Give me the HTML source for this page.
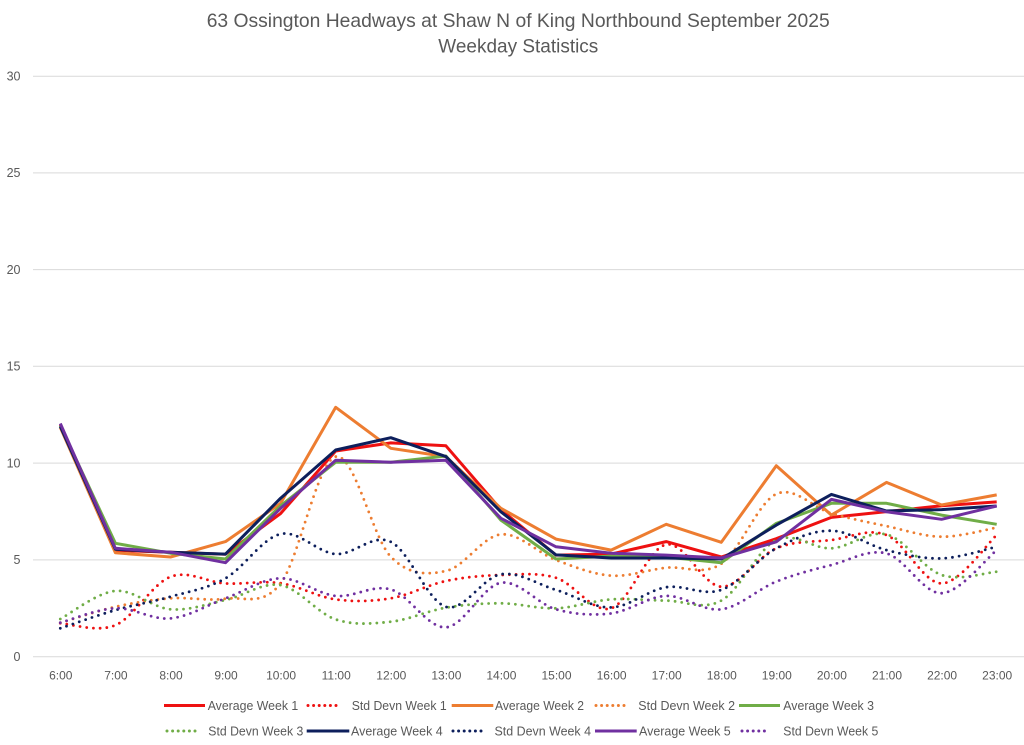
<!DOCTYPE html>
<html>
<head>
<meta charset="utf-8">
<style>
  html,body{margin:0;padding:0;background:#fff;}
  svg{display:block;}
  text{font-family:"Liberation Sans",Arial,sans-serif;fill:#595959;}
</style>
</head>
<body>
<svg width="1024" height="745" viewBox="0 0 1024 745" xmlns="http://www.w3.org/2000/svg">
  <rect x="0" y="0" width="1024" height="745" fill="#fff"/>

  <!-- Title -->
  <text x="206.7" y="27" font-size="19.5" textLength="623" lengthAdjust="spacingAndGlyphs">63 Ossington Headways at Shaw N of King Northbound September 2025</text>
  <text x="438.3" y="52.5" font-size="19.5" textLength="160" lengthAdjust="spacingAndGlyphs">Weekday Statistics</text>

  <!-- Gridlines -->
  <g stroke="#d9d9d9" stroke-width="1">
    <line x1="33" y1="76.2" x2="1024" y2="76.2"/>
    <line x1="33" y1="172.9" x2="1024" y2="172.9"/>
    <line x1="33" y1="269.6" x2="1024" y2="269.6"/>
    <line x1="33" y1="366.3" x2="1024" y2="366.3"/>
    <line x1="33" y1="463.1" x2="1024" y2="463.1"/>
    <line x1="33" y1="559.9" x2="1024" y2="559.9"/>
    <line x1="33" y1="656.7" x2="1024" y2="656.7"/>
  </g>

  <!-- Y labels -->
  <g font-size="12.5" text-anchor="end">
    <text x="20.5" y="80.5">30</text>
    <text x="20.5" y="177.2">25</text>
    <text x="20.5" y="273.9">20</text>
    <text x="20.5" y="370.6">15</text>
    <text x="20.5" y="467.4">10</text>
    <text x="20.5" y="564.2">5</text>
    <text x="20.5" y="661">0</text>
  </g>

  <!-- X labels -->
  <g font-size="12" text-anchor="middle">
    <text x="60.8" y="679.5">6:00</text>
    <text x="115.9" y="679.5">7:00</text>
    <text x="171" y="679.5">8:00</text>
    <text x="226" y="679.5">9:00</text>
    <text x="281.1" y="679.5">10:00</text>
    <text x="336.2" y="679.5">11:00</text>
    <text x="391.3" y="679.5">12:00</text>
    <text x="446.4" y="679.5">13:00</text>
    <text x="501.4" y="679.5">14:00</text>
    <text x="556.5" y="679.5">15:00</text>
    <text x="611.6" y="679.5">16:00</text>
    <text x="666.7" y="679.5">17:00</text>
    <text x="721.8" y="679.5">18:00</text>
    <text x="776.8" y="679.5">19:00</text>
    <text x="831.9" y="679.5">20:00</text>
    <text x="887" y="679.5">21:00</text>
    <text x="942.1" y="679.5">22:00</text>
    <text x="997.2" y="679.5">23:00</text>
  </g>

  <!-- Series -->
  <g fill="none" stroke-linejoin="round">
    <!-- Average Week 1 -->
    <polyline stroke="#ee1111" stroke-width="3" points="60.3,424.5 115.4,550.3 170.5,552.2 225.5,554.2 280.6,513.5 335.7,451.0 390.8,442.9 445.9,445.8 500.9,509.6 556.0,555.1 611.1,554.1 666.2,541.6 721.3,557.0 776.3,538.7 831.4,517.4 886.5,511.6 941.6,505.8 996.7,501.9"/>
    <!-- Std Devn Week 1 -->
    <polyline class="s" stroke="#ee1111" stroke-width="2.8" stroke-linecap="round" stroke-dasharray="0 6.7" points="60.3,623.2 115.4,625.2 170.5,576.8 225.5,583.4 280.6,583.2 335.7,599.4 390.8,598.3 445.9,581.0 500.9,575.0 556.0,577.8 611.1,608.3 666.2,544.5 721.3,586.7 776.3,548.3 831.4,540.0 886.5,535.0 941.6,583.4 996.7,535.0"/>
    <!-- Average Week 2 -->
    <polyline stroke="#ed7d31" stroke-width="3" points="60.3,427.4 115.4,552.8 170.5,557.0 225.5,541.6 280.6,503.3 335.7,407.3 390.8,448.3 445.9,456.6 500.9,508.3 556.0,539.1 611.1,550.1 666.2,524.3 721.3,542.3 776.3,465.7 831.4,515.1 886.5,482.4 941.6,505.0 996.7,494.9"/>
    <!-- Std Devn Week 2 -->
    <polyline class="s" stroke="#ed7d31" stroke-width="2.8" stroke-linecap="round" stroke-dasharray="0 6.7" points="60.3,622.8 115.4,606.8 170.5,598.3 225.5,598.7 280.6,583.4 335.7,456.6 390.8,556.7 445.9,571.0 500.9,534.4 556.0,560.0 611.1,575.6 666.2,567.7 721.3,563.8 776.3,494.0 831.4,513.3 886.5,526.1 941.6,536.7 996.7,527.6"/>
    <!-- Average Week 3 -->
    <polyline stroke="#70ad47" stroke-width="3" points="60.3,425.5 115.4,543.3 170.5,553.2 225.5,559.0 280.6,505.8 335.7,462.2 390.8,462.2 445.9,456.0 500.9,520.1 556.0,559.0 611.1,556.1 666.2,557.0 721.3,562.7 776.3,523.4 831.4,503.3 886.5,503.3 941.6,515.1 996.7,524.3"/>
    <!-- Std Devn Week 3 -->
    <polyline class="s" stroke="#70ad47" stroke-width="2.8" stroke-linecap="round" stroke-dasharray="0 6.7" points="60.3,619.0 115.4,590.9 170.5,609.3 225.5,600.0 280.6,585.1 335.7,619.4 390.8,621.7 445.9,607.7 500.9,603.3 556.0,608.3 611.1,599.4 666.2,600.6 721.3,600.6 776.3,540.0 831.4,548.3 886.5,534.4 941.6,575.0 996.7,571.7"/>
    <!-- Average Week 4 -->
    <polyline stroke="#0d1f5c" stroke-width="3" points="60.3,426.4 115.4,549.3 170.5,552.2 225.5,554.1 280.6,498.2 335.7,450.0 390.8,437.7 445.9,456.6 500.9,511.8 556.0,554.9 611.1,558.0 666.2,558.0 721.3,559.0 776.3,525.1 831.4,494.4 886.5,511.0 941.6,509.6 996.7,506.0"/>
    <!-- Std Devn Week 4 -->
    <polyline class="s" stroke="#0d1f5c" stroke-width="2.8" stroke-linecap="round" stroke-dasharray="0 6.7" points="60.3,628.3 115.4,610.1 170.5,596.7 225.5,578.3 280.6,534.0 335.7,554.0 390.8,541.8 445.9,606.8 500.9,574.3 556.0,589.9 611.1,607.4 666.2,587.2 721.3,589.9 776.3,548.3 831.4,530.7 886.5,550.1 941.6,558.4 996.7,546.8"/>
    <!-- Average Week 5 -->
    <polyline stroke="#7030a0" stroke-width="3" points="60.3,423.5 115.4,548.3 170.5,552.2 225.5,562.7 280.6,508.3 335.7,460.3 390.8,462.2 445.9,460.3 500.9,518.3 556.0,546.8 611.1,553.2 666.2,555.1 721.3,558.0 776.3,541.8 831.4,499.4 886.5,511.8 941.6,519.3 996.7,506.0"/>
    <!-- Std Devn Week 5 -->
    <polyline class="s" stroke="#7030a0" stroke-width="2.8" stroke-linecap="round" stroke-dasharray="0 6.7" points="60.3,622.7 115.4,608.3 170.5,618.4 225.5,598.3 280.6,578.3 335.7,595.9 390.8,589.4 445.9,627.3 500.9,582.8 556.0,609.3 611.1,613.4 666.2,595.9 721.3,609.3 776.3,581.6 831.4,565.0 886.5,553.4 941.6,593.2 996.7,550.1"/>
  </g>

  <!-- Legend row 1 -->
  <g fill="none" stroke-width="3">
    <line x1="164" y1="705.5" x2="205" y2="705.5" stroke="#ee1111"/>
    <line x1="308" y1="705.5" x2="336" y2="705.5" stroke="#ee1111" stroke-linecap="round" stroke-dasharray="0 5.6"/>
    <line x1="451.7" y1="705.5" x2="493.3" y2="705.5" stroke="#ed7d31"/>
    <line x1="596" y1="705.5" x2="624" y2="705.5" stroke="#ed7d31" stroke-linecap="round" stroke-dasharray="0 5.6"/>
    <line x1="739" y1="705.5" x2="780" y2="705.5" stroke="#70ad47"/>
  </g>
  <g font-size="13">
    <text x="207.7" y="710" textLength="90.6" lengthAdjust="spacingAndGlyphs">Average Week 1</text>
    <text x="351.7" y="710" textLength="95" lengthAdjust="spacingAndGlyphs">Std Devn Week 1</text>
    <text x="495" y="710" textLength="89" lengthAdjust="spacingAndGlyphs">Average Week 2</text>
    <text x="638.3" y="710" textLength="96.7" lengthAdjust="spacingAndGlyphs">Std Devn Week 2</text>
    <text x="783.3" y="710" textLength="90.7" lengthAdjust="spacingAndGlyphs">Average Week 3</text>
  </g>

  <!-- Legend row 2 -->
  <g fill="none" stroke-width="3">
    <line x1="167" y1="731" x2="195" y2="731" stroke="#70ad47" stroke-linecap="round" stroke-dasharray="0 5.6"/>
    <line x1="306.7" y1="731" x2="349.3" y2="731" stroke="#0d1f5c"/>
    <line x1="453" y1="731" x2="481" y2="731" stroke="#0d1f5c" stroke-linecap="round" stroke-dasharray="0 5.6"/>
    <line x1="595" y1="731" x2="636.7" y2="731" stroke="#7030a0"/>
    <line x1="742" y1="731" x2="770" y2="731" stroke="#7030a0" stroke-linecap="round" stroke-dasharray="0 5.6"/>
  </g>
  <g font-size="13">
    <text x="208.3" y="735.5" textLength="95" lengthAdjust="spacingAndGlyphs">Std Devn Week 3</text>
    <text x="351" y="735.5" textLength="91.7" lengthAdjust="spacingAndGlyphs">Average Week 4</text>
    <text x="494.5" y="735.5" textLength="96.5" lengthAdjust="spacingAndGlyphs">Std Devn Week 4</text>
    <text x="639" y="735.5" textLength="91.7" lengthAdjust="spacingAndGlyphs">Average Week 5</text>
    <text x="783.3" y="735.5" textLength="95" lengthAdjust="spacingAndGlyphs">Std Devn Week 5</text>
  </g>
</svg>
<script>
(function(){
  var NS='http://www.w3.org/2000/svg';
  var list=document.querySelectorAll('polyline.s');
  for(var k=0;k<list.length;k++){
    var pl=list[k];
    var pts=pl.getAttribute('points').trim().split(/\s+/).map(function(p){return p.split(',').map(Number);});
    var d='M'+pts[0][0]+','+pts[0][1];
    for(var i=0;i<pts.length-1;i++){
      var p0=pts[i-1]||pts[i],p1=pts[i],p2=pts[i+1],p3=pts[i+2]||p2;
      var c1x=p1[0]+(p2[0]-p0[0])/6,c1y=p1[1]+(p2[1]-p0[1])/6;
      var c2x=p2[0]-(p3[0]-p1[0])/6,c2y=p2[1]-(p3[1]-p1[1])/6;
      d+=' C'+c1x.toFixed(2)+','+c1y.toFixed(2)+' '+c2x.toFixed(2)+','+c2y.toFixed(2)+' '+p2[0]+','+p2[1];
    }
    var path=document.createElementNS(NS,'path');
    for(var a=0;a<pl.attributes.length;a++){
      var at=pl.attributes[a];
      if(at.name!=='points'&&at.name!=='class')path.setAttribute(at.name,at.value);
    }
    path.setAttribute('d',d);
    pl.parentNode.replaceChild(path,pl);
  }
})();
</script>
</body>
</html>
